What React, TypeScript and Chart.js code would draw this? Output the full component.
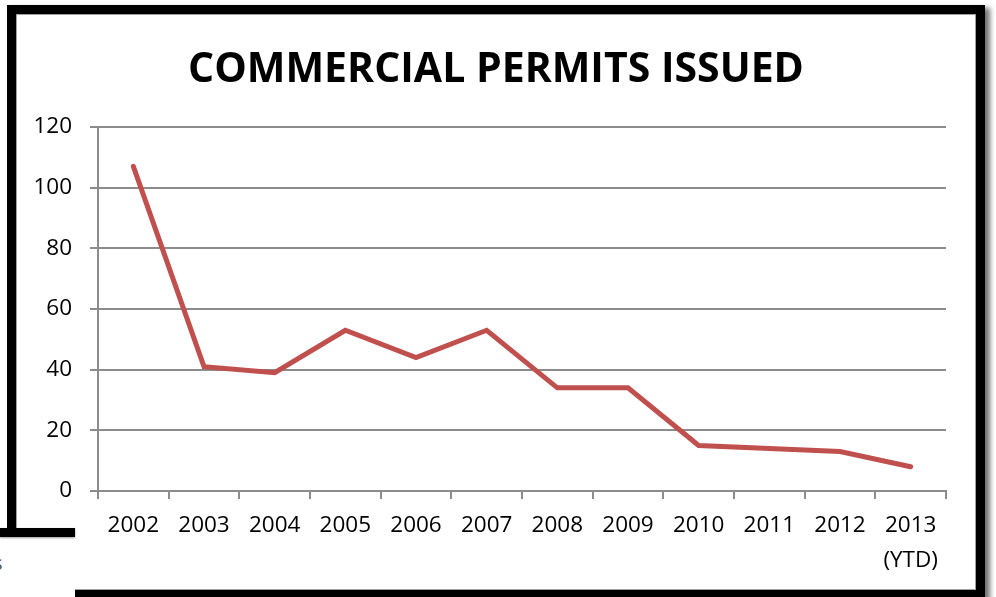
import React, { useEffect, useRef } from "react";
import { Chart, registerables } from "chart.js";

Chart.register(...registerables);

const categories: (string | string[])[] = [
  "2002", "2003", "2004", "2005", "2006", "2007",
  "2008", "2009", "2010", "2011", "2012", ["2013", "(YTD)"],
];
const permits: number[] = [107, 41, 39, 53, 44, 53, 34, 34, 15, 14, 13, 8];
const yTicks = { min: 0, max: 120, step: 20 };
const titleText = "COMMERCIAL PERMITS ISSUED";

const FONT = "'Open Sans', 'DejaVu Sans', sans-serif";
const GRID = "#8c8c8c";

export default function App() {
  const ref = useRef<HTMLCanvasElement | null>(null);

  useEffect(() => {
    document.body.style.margin = "0";
    const canvas = ref.current;
    if (!canvas) return;
    const chart = new Chart(canvas, {
      type: "line",
      data: {
        labels: categories,
        datasets: [
          {
            data: permits,
            borderColor: "#C0504D",
            backgroundColor: "#C0504D",
            borderWidth: 5,
            pointRadius: 0,
            tension: 0,
            borderCapStyle: "round",
            borderJoinStyle: "miter",
          },
        ],
      },
      options: {
        animation: false,
        responsive: false,
        maintainAspectRatio: false,
        layout: { padding: 0 },
        plugins: {
          legend: { display: false },
          tooltip: { enabled: false },
          title: {
            display: true,
            text: titleText,
            color: "#000",
            font: { family: FONT, size: 41, weight: "bold", lineHeight: "46px" },
            padding: { top: 33, bottom: 34 },
          },
        },
        scales: {
          x: {
            offset: true,
            grid: {
              offset: true,
              drawOnChartArea: false,
              drawTicks: true,
              tickLength: 8,
              color: GRID,
              lineWidth: 2,
            },
            border: { display: true, color: GRID, width: 2 },
            ticks: {
              color: "#000",
              font: { family: FONT, size: 22.5, lineHeight: "35px" },
              padding: 9,
              maxRotation: 0,
              autoSkip: false,
            },
            afterFit: (scale: any) => {
              scale.height = 99;
            },
          },
          y: {
            min: yTicks.min,
            max: yTicks.max,
            ticks: {
              stepSize: yTicks.step,
              color: "#000",
              font: { family: FONT, size: 22.5 },
              padding: 18,
            },
            grid: {
              color: GRID,
              lineWidth: 2,
              drawTicks: true,
              tickLength: 8,
            },
            border: { display: true, color: GRID, width: 2 },
            afterFit: (scale: any) => {
              scale.width = 82;
            },
          },
          yRight: {
            position: "right",
            display: true,
            min: yTicks.min,
            max: yTicks.max,
            grid: { display: false, drawTicks: false },
            border: { display: false },
            ticks: { display: false },
            afterFit: (scale: any) => {
              scale.width = 30;
            },
          },
        },
      },
    });
    return () => chart.destroy();
  }, []);

  return (
    <div
      style={{
        position: "fixed",
        left: 0,
        top: 0,
        width: 996,
        height: 597,
        overflow: "hidden",
        background: "#fff",
      }}
    >
      <canvas
        ref={ref}
        width={960}
        height={576}
        style={{ position: "absolute", left: 16, top: 14, width: 960, height: 576 }}
      />
      <div
        style={{
          position: "absolute",
          left: 7,
          top: 5,
          width: 960,
          height: 576,
          border: "9px solid #000",
          boxShadow: "5px 3px 5px rgba(0,0,0,0.55)",
          pointerEvents: "none",
        }}
      />
      <div
        style={{
          position: "absolute",
          left: 16,
          top: 14,
          width: 958,
          height: 574,
          border: "1px solid #a0a0a0",
          pointerEvents: "none",
        }}
      />
      <div
        style={{
          position: "absolute",
          left: 0,
          top: 537,
          width: 75,
          height: 60,
          background: "#fff",
          overflow: "hidden",
        }}
      >
        <span
          style={{
            position: "absolute",
            left: -7,
            top: 12,
            fontFamily: FONT,
            fontSize: 20,
            color: "#555",
          }}
        >
          s
        </span>
      </div>
      <div
        style={{
          position: "absolute",
          left: 0,
          top: 528,
          width: 75,
          height: 9,
          background: "#000",
          boxShadow: "0 1px 2px rgba(0,0,0,0.4)",
        }}
      />
    </div>
  );
}
